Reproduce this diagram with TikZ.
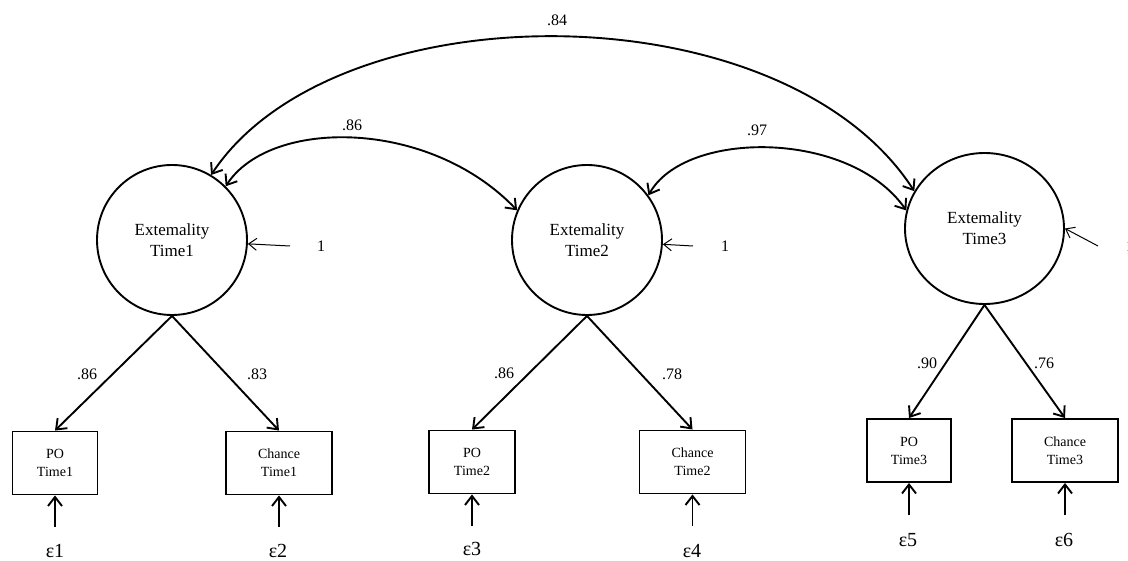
\documentclass[tikz,border=0pt]{standalone}
\usepackage{fontspec}
\setmainfont{Liberation Serif}
\usetikzlibrary{arrows.meta,shapes.geometric}
\begin{document}
\begin{tikzpicture}[x=1pt,y=-1pt,
 lat/.style={ellipse,draw,line width=1.9pt,inner sep=0pt,minimum width=150pt,minimum height=150pt,align=center,font=\fontsize{17}{21}\selectfont},
 obs/.style={rectangle,draw,line width=1.9pt,inner sep=0pt,minimum height=63pt,align=center,font=\fontsize{14}{18}\selectfont},
 load/.style={line width=1.9pt,-{Straight Barb[length=9pt,width=14pt]}},
 cov/.style={line width=1.9pt,{Straight Barb[length=9pt,width=14pt]}-{Straight Barb[length=9pt,width=14pt]}},
 varr/.style={line width=1pt,-{Straight Barb[length=8pt,width=12pt]}},
 coef/.style={font=\fontsize{16}{18}\selectfont,inner sep=0pt},
 err/.style={font=\fontsize{20}{23}\selectfont,inner sep=0pt}]
\useasboundingbox (0,0) rectangle (1128,561);

% latent factors
\node[lat] (f1) at (172,240) {Extemality\\Time1};
\node[lat] (f2) at (587,240) {Extemality\\Time2};
\node[lat,minimum width=159pt,minimum height=151pt] (f3) at (984.5,228.5) {Extemality\\Time3};

% indicators
\node[obs,minimum width=85pt] (po1) at (55,463) {PO\\Time1};
\node[obs,minimum width=106pt] (ch1) at (279,463) {Chance\\Time1};
\node[obs,minimum width=86pt] (po2) at (472,462) {PO\\Time2};
\node[obs,minimum width=106pt] (ch2) at (692.5,462) {Chance\\Time2};
\node[obs,minimum width=84pt] (po3) at (909,450.5) {PO\\Time3};
\node[obs,minimum width=106pt] (ch3) at (1065,450.5) {Chance\\Time3};

% loadings
\draw[load] (f1.south) -- (po1.north);
\draw[load] (f1.south) -- (ch1.north);
\draw[load] (f2.south) -- (po2.north);
\draw[load] (f2.south) -- (ch2.north);
\draw[load] (f3.south) -- (po3.north);
\draw[load] (f3.south) -- (ch3.north);
\node[coef] (l1) at (87,374) {.86};
\node[coef] (l2) at (257,374) {.83};
\node[coef] (l3) at (504,373) {.86};
\node[coef] (l4) at (672,374) {.78};
\node[coef] (l5) at (927,363) {.90};
\node[coef] (l6) at (1044,363) {.76};

% errors
\node[err] (e1) at (55,551) {ε1};
\node[err] (e2) at (278,551) {ε2};
\node[err] (e3) at (472,549) {ε3};
\node[err] (e4) at (692,551) {ε4};
\node[err] (e5) at (908,540) {ε5};
\node[err] (e6) at (1064,540) {ε6};
\coordinate (e1t) at (55,527);
\coordinate (e2t) at (279,527);
\coordinate (e3t) at (472,526);
\coordinate (e4t) at (692.5,526);
\coordinate (e5t) at (909,515);
\coordinate (e6t) at (1065,515);
\draw[load] (e1t) -- (po1.south);
\draw[load] (e2t) -- (ch1.south);
\draw[load] (e3t) -- (po2.south);
\draw[load] (e4t) -- (ch2.south);
\draw[load] (e5t) -- (po3.south);
\draw[load] (e6t) -- (ch3.south);

% factor variances
\coordinate (v1) at (290,246);
\coordinate (v2) at (693,246);
\coordinate (v3) at (1098,246);
\draw[varr] (v1) -- (f1);
\draw[varr] (v2) -- (f2);
\draw[varr] (v3) -- (f3.east);
\node[coef] (w1) at (321,246) {1};
\node[coef] (w2) at (725,246) {1};
\node[coef] (w3) at (1130,246) {1};

% covariances
\draw[cov] (f1.59) .. controls (335,-12) and (783,-12) .. (f3.152);
\draw[cov] (f1.45) .. controls (270,118) and (429,118) .. (f2.157);
\draw[cov] (f3.167) .. controls (850,129.5) and (685,129.5) .. (f2.36);
\node[coef] (c1) at (557,20) {.84};
\node[coef] (c2) at (352,125) {.86};
\node[coef] (c3) at (757,130) {.97};
\end{tikzpicture}
\end{document}
